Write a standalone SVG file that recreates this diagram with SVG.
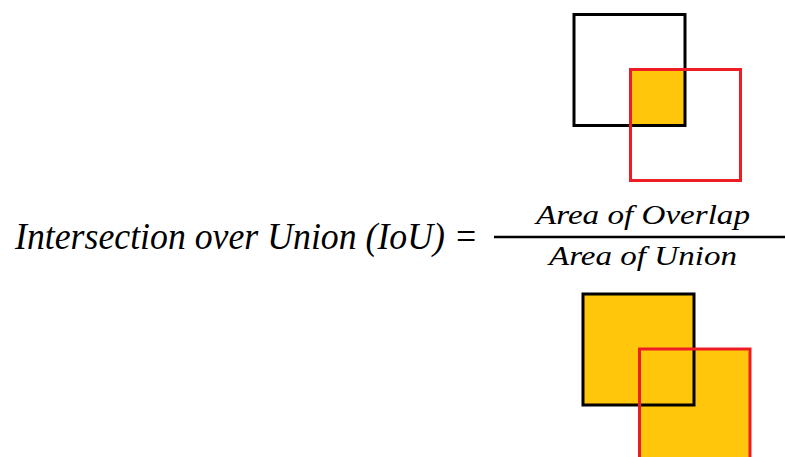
<svg xmlns="http://www.w3.org/2000/svg" width="785" height="457" viewBox="0 0 785 457">
<style>
.t{font-family:"Liberation Serif","DejaVu Serif",serif;font-style:italic;fill:#000}
.k{fill:none;stroke:#000;stroke-width:3}
.r{fill:none;stroke:#EE1C25;stroke-width:3}
.y{fill:#FFC60B}
</style>
<rect width="785" height="457" fill="#fff"/>
<g id="overlap-diagram">
<rect class="y" x="630.5" y="69.5" width="54.5" height="56"/>
<rect class="k" x="574" y="14.5" width="111" height="111"/>
<rect class="r" x="630.5" y="69.5" width="110" height="111"/>
</g>
<g id="formula">
<text class="t" x="15" y="249" font-size="37" textLength="463" lengthAdjust="spacingAndGlyphs">Intersection over Union (IoU) =</text>
<line x1="494" y1="237" x2="785" y2="237" stroke="#000" stroke-width="2.5"/>
<text class="t" x="536" y="224" font-size="27" textLength="214" lengthAdjust="spacingAndGlyphs">Area of Overlap</text>
<text class="t" x="549" y="265" font-size="27" textLength="188" lengthAdjust="spacingAndGlyphs">Area of Union</text>
</g>
<g id="union-diagram">
<rect class="y" x="583" y="294" width="111" height="111"/>
<rect class="y" x="639.5" y="349" width="110.5" height="110"/>
<rect class="k" x="583" y="294" width="111" height="111"/>
<rect class="r" x="639.5" y="349" width="110.5" height="120"/>
</g>
</svg>
